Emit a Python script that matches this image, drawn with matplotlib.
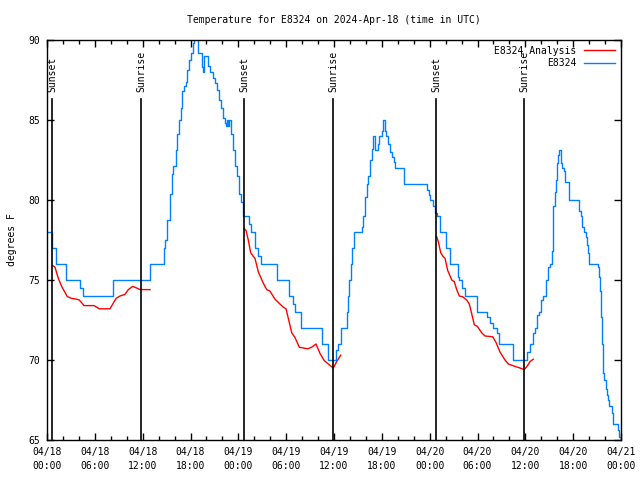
import pandas as pd
import matplotlib
matplotlib.use('Agg')
import matplotlib.pyplot as plt
import matplotlib.dates as mdates

# hours after 2024-04-18 00:00 UTC
obs_hours = [0.16, 0.59, 1.13, 2.38, 4.1, 4.48, 8.3, 12.95, 14.68, 14.86, 15.09, 15.43,
             15.64, 15.84, 16.14, 16.35, 16.60, 16.77, 16.97, 17.19, 17.40, 17.60, 17.85,
             18.03, 18.28, 18.44, 18.98, 19.41, 19.61, 19.74, 20.16, 20.45, 20.79, 21.07,
             21.36, 21.58, 21.83, 22.04, 22.33, 22.45, 22.62, 22.74, 22.87, 23.04, 23.29,
             23.58, 23.80, 24.08, 24.34, 24.62, 25.34, 25.59, 26.09, 26.5, 26.84, 28.8,
             30.39, 30.9, 31.1, 31.86, 34.5, 35.2, 35.3, 36.25, 36.5, 36.88, 37.6, 37.8,
             37.92, 38.1, 38.3, 38.55, 39.48, 39.68, 39.89, 40.1, 40.3, 40.52, 40.73,
             40.93, 41.14, 41.48, 41.69, 41.98, 42.19, 42.4, 42.53, 42.81, 43.03, 43.31,
             43.53, 43.65, 44.78, 47.72, 47.93, 48.1, 48.43, 48.72, 48.93, 49.3, 50.05,
             50.55, 51.52, 51.72, 52.02, 52.43, 53.9, 55.16, 55.57, 55.9, 56.41, 56.7,
             58.42, 60.25, 60.59, 61.0, 61.21, 61.43, 61.72, 61.97, 62.26, 62.56, 62.88,
             63.10, 63.31, 63.44, 63.51, 63.72, 63.81, 63.94, 64.14, 64.26, 64.44, 64.64,
             64.85, 64.98, 65.48, 66.74, 66.95, 67.15, 67.36, 67.61, 67.78, 67.9, 68.03,
             69.08, 69.28, 69.37, 69.49, 69.58, 69.71, 69.78, 69.91, 70.08, 70.21, 70.34,
             70.50, 70.84, 70.96, 71.04, 71.66, 71.79, 71.88]
obs_temp = [78, 77, 76, 75, 74.5, 74, 75, 76, 77, 77.5, 78.75, 80.4,
            81.6, 82.1, 83.1, 84.1, 85.0, 85.75, 86.8, 87.1, 87.4, 88.1, 88.75,
            89.2, 89.8, 90.5, 89.2, 88.3, 88.0, 89.0, 88.4, 88.0, 87.6, 87.3,
            86.9, 86.25, 85.75, 85.1, 84.8, 84.6, 85.0, 84.6, 85.0, 84.1, 83.1,
            82.1, 81.5, 80.4, 79.9, 79.0, 78.5, 78.0, 77.0, 76.5, 76, 75,
            74, 73.5, 73, 72, 71, 70.5, 70, 70.6, 71, 72, 73, 74,
            75, 76, 77, 78, 78.3, 79, 80.2, 81, 81.5, 82.5, 83.2,
            84, 83.1, 83.5, 84, 84.3, 85, 84.3, 84, 83.5, 83, 82.7,
            82.4, 82, 81, 80.6, 80.3, 80, 79.6, 79.2, 79, 78, 77,
            76, 75.2, 75, 74.5, 74, 73, 72.7, 72.3, 72, 71.7, 71,
            70, 70.5, 71, 71.7, 72, 72.8, 73, 73.75, 74, 75, 75.8,
            76, 76.8, 78.2, 79.6, 80.5, 81.25, 82.3, 82.8, 83.1, 82.3, 82,
            81.8, 81.1, 80, 79.3, 79, 78.3, 78, 77.7, 77.2, 76.7, 76,
            75.8, 75.2, 74.3, 72.7, 71, 69.8, 69.2, 68.75, 68.2, 67.8, 67.5,
            67.1, 66.7, 66.25, 66, 65.6, 65.2, 65.2]

ana1_hours = [0.72, 1.0, 1.42, 1.84, 2.55, 3.10, 3.73, 4.05, 4.64, 5.90, 6.56, 7.90,
              8.66, 9.16, 9.78, 10.2, 10.75, 11.25, 11.67, 12.92]
ana1_temp = [75.9, 75.8, 75.1, 74.6, 73.96, 73.85, 73.8, 73.75, 73.4, 73.4, 73.2, 73.2,
             73.85, 74.0, 74.1, 74.4, 74.6, 74.5, 74.4, 74.4]
ana2_hours = [24.75, 24.96, 25.25, 25.55, 25.84, 26.09, 26.51, 27.13, 27.56, 27.97, 28.60,
              29.01, 29.64, 29.98, 30.27, 30.70, 31.11, 31.65, 32.15, 32.70, 33.2, 33.74,
              34.25, 34.78, 35.41, 35.91, 36.34, 36.84]
ana2_temp = [78.2, 78.1, 77.5, 76.7, 76.5, 76.35, 75.5, 74.8, 74.4, 74.3, 73.8,
             73.6, 73.3, 73.2, 72.6, 71.7, 71.4, 70.8, 70.75, 70.7, 70.8, 71.0,
             70.4, 69.96, 69.7, 69.5, 69.9, 70.3]
ana3_hours = [48.88, 49.08, 49.39, 49.64, 49.93, 50.26, 50.77, 51.09, 51.39, 51.72, 52.15,
              52.65, 52.97, 53.27, 53.60, 53.98, 54.53, 54.94, 55.91, 56.32, 56.82, 57.45,
              57.87, 58.71, 59.33, 59.87, 60.21, 60.59, 61.0]
ana3_temp = [77.7, 77.4, 76.7, 76.5, 76.35, 75.6, 75.0, 74.9, 74.4, 74.0, 73.95,
             73.75, 73.5, 72.9, 72.2, 72.1, 71.7, 71.5, 71.45, 71.1, 70.5, 70.0,
             69.75, 69.6, 69.5, 69.4, 69.6, 69.9, 70.05]

sun_hours = [0.66, 11.83, 24.75, 35.91, 48.80, 59.87]
sun_labels = ['Sunset', 'Sunrise', 'Sunset', 'Sunrise', 'Sunset', 'Sunrise']

start = pd.Timestamp('2024-04-18 00:00')


def to_time(hours):
    return start + pd.to_timedelta(hours, unit='h')


plt.rcParams['font.family'] = 'DejaVu Sans Mono'
plt.rcParams['font.size'] = 7

fig = plt.figure(figsize=(6.4, 4.8), dpi=100)
ax = fig.add_axes([47 / 640, 40 / 480, 574 / 640, 400 / 480])

# analysis segments share one legend entry
ax.plot(to_time(ana1_hours), ana1_temp, color='#ff0000', lw=1.0, label='E8324 Analysis')
ax.plot(to_time(ana2_hours), ana2_temp, color='#ff0000', lw=1.0)
ax.plot(to_time(ana3_hours), ana3_temp, color='#ff0000', lw=1.0)
ax.plot(to_time(obs_hours), obs_temp, color='#0080ff', lw=1.0, drawstyle='steps-post', label='E8324')

for h, lab in zip(sun_hours, sun_labels):
    t = to_time(h)
    ax.plot([t, t], [65, 86.3], color='black', lw=1.2)
    ax.text(t, 86.75, lab, rotation=90, ha='center', va='bottom', fontsize=7)

ax.set_xlim(start, start + pd.Timedelta(hours=72))
ax.set_ylim(65, 90)
ax.set_yticks([65, 70, 75, 80, 85, 90])
ax.xaxis.set_major_locator(mdates.HourLocator(byhour=[0, 6, 12, 18]))
ax.xaxis.set_minor_locator(mdates.HourLocator(byhour=range(0, 24, 2)))
ax.xaxis.set_major_formatter(mdates.DateFormatter('%m/%d\n%H:%M'))
ax.tick_params(which='both', direction='in', top=True, right=True, width=1, labelsize=7)
ax.tick_params(which='major', length=5, pad=5)
ax.tick_params(which='minor', length=3)
for s in ax.spines.values():
    s.set_linewidth(1.0)

ax.set_ylabel('degrees F', fontsize=7, labelpad=8)
ax.set_title('Temperature for E8324 on 2024-Apr-18 (time in UTC)', fontsize=7, pad=12)
ax.legend(loc='upper right', frameon=False, markerfirst=False, handlelength=3.2,
          labelspacing=0.25, borderaxespad=0.2, fontsize=7)

fig.canvas.draw()
for lab in ax.get_xticklabels():
    lab.set_linespacing(1.5)

fig.savefig('out.png', dpi=100)
